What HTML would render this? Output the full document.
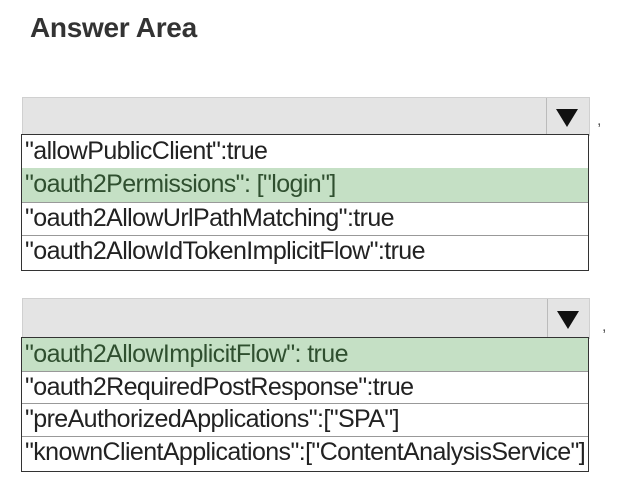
<!DOCTYPE html>
<html><head><style>
body{margin:0;width:626px;height:500px;background:#fff;position:relative;overflow:hidden;font-family:"Liberation Sans",Arial,sans-serif;}
.t{position:absolute;left:30px;top:12px;font-size:28px;font-weight:bold;color:#333;letter-spacing:-0.3px;}
.hd{position:absolute;background:#e4e4e4;border:1px solid #d0d0d0;}
.dv{position:absolute;top:0;bottom:0;width:1px;background:#bbb;}
.ar{position:absolute;width:0;height:0;border-left:11px solid transparent;border-right:11px solid transparent;border-top:18px solid #111;}
.ls{position:absolute;border:1.5px solid #333;background:#fff;}
.r{position:absolute;left:0;right:0;border-bottom:1px solid #999;font-size:25px;letter-spacing:-0.6px;color:#222;padding-left:3px;line-height:32px;white-space:nowrap;}
.g{background:#c5e0c5;color:#2f4f2f;}
.c{position:absolute;font-size:16px;color:#555;}
</style></head><body>
<div class="t">Answer Area</div>

<div class="hd" style="left:22px;top:97px;width:566px;height:37px;">
<div class="dv" style="left:523px"></div>
<div class="ar" style="left:533px;top:11px"></div>
</div>
<div class="c" style="left:597px;top:112px">,</div>
<div class="ls" style="left:21px;top:134px;width:566px;height:135px;">
<div class="r" style="top:0;height:33px">"allowPublicClient":true</div>
<div class="r g" style="top:33px;height:34px">"oauth2Permissions": ["login"]</div>
<div class="r" style="top:67px;height:33px">"oauth2AllowUrlPathMatching":true</div>
<div class="r" style="top:100px;height:34px;border-bottom:none">"oauth2AllowIdTokenImplicitFlow":true</div>
</div>

<div class="hd" style="left:22px;top:298px;width:566px;height:39px;">
<div class="dv" style="left:524px"></div>
<div class="ar" style="left:534px;top:12px"></div>
</div>
<div class="c" style="left:602px;top:318px">,</div>
<div class="ls" style="left:21px;top:337px;width:566px;height:133px;">
<div class="r g" style="top:0;height:33px">"oauth2AllowImplicitFlow": true</div>
<div class="r" style="top:33px;height:32px">"oauth2RequiredPostResponse":true</div>
<div class="r" style="top:65px;height:33px">"preAuthorizedApplications":["SPA"]</div>
<div class="r" style="top:98px;height:34px;border-bottom:none">"knownClientApplications":["ContentAnalysisService"]</div>
</div>
</body></html>
